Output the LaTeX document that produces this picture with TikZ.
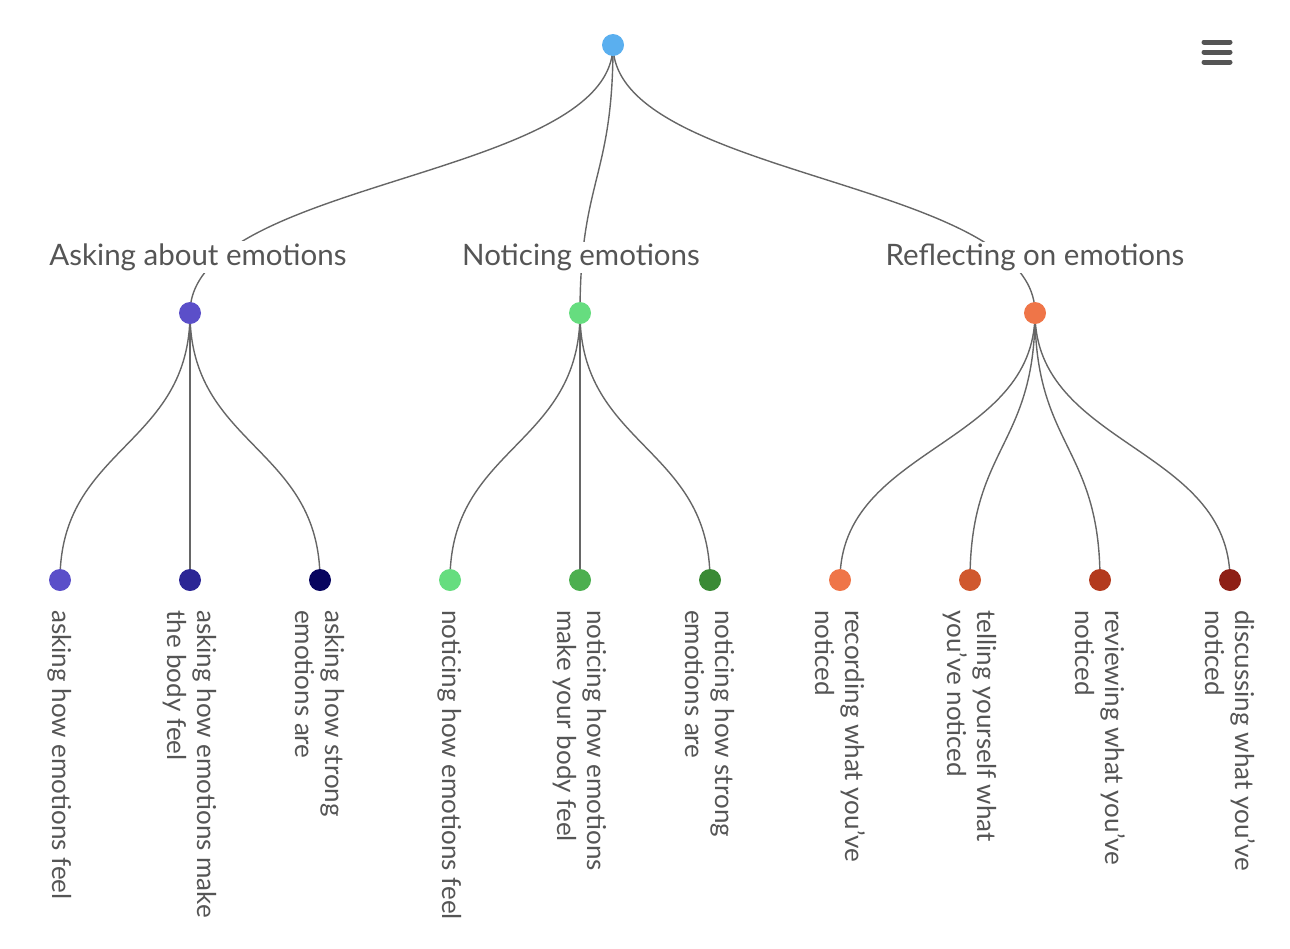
\documentclass[tikz,border=0pt]{standalone}
\usepackage{fontspec}
\setmainfont{Lato}
\usetikzlibrary{positioning,calc}
\definecolor{rootc}{HTML}{5AAFEF}
\definecolor{askA}{HTML}{5B4FC9}
\definecolor{askB}{HTML}{2B2595}
\definecolor{askC}{HTML}{07055F}
\definecolor{notA}{HTML}{66DD7F}
\definecolor{notB}{HTML}{4CAF50}
\definecolor{notC}{HTML}{3A8A35}
\definecolor{refA}{HTML}{EF7548}
\definecolor{refB}{HTML}{D0582E}
\definecolor{refC}{HTML}{B33A1E}
\definecolor{refD}{HTML}{8E1F15}
\definecolor{ink}{HTML}{555555}
\tikzset{
	dot/.style = {circle, inner sep=0pt, minimum size=22pt, fill=#1},
	link/.style = {draw=ink!90, line width=1.4pt},
	branch/.style = {font=\fontsize{29.5}{34}\selectfont, text=ink, fill=white, inner sep=2pt},
	leaf/.style = {font=\fontsize{26}{30}\selectfont, text=ink, rotate=-90, anchor=west, align=left, inner sep=0pt},
	bar/.style = {line width=5pt, line cap=round, draw=ink}
}
\newcommand{\vlink}[2]{\path[link] let \p1=(#1), \p2=(#2) in
	(\p1) .. controls (\x1,{0.5*\y1+0.5*\y2}) and (\x2,{0.5*\y1+0.5*\y2}) .. (\p2);}
\begin{document}
\begin{tikzpicture}[x=1pt, y=-1pt]
\useasboundingbox (0,0) rectangle (1290,948);

\coordinate (root) at (613,45);
\coordinate (ask) at (190,313);
\coordinate (not) at (580,313);
\coordinate (ref) at (1035,313);

% links first, labels hide them
\vlink{root}{ask}
\vlink{root}{not}
\vlink{root}{ref}
\foreach \src/\lx in {ask/60, ask/190, ask/320, not/450, not/580, not/710, ref/840, ref/970, ref/1100, ref/1230}{
	\coordinate (tmp) at (\lx,580);
	\vlink{\src}{tmp}
}

\node (askl) [branch] at (198,257) {Asking about emotions};
\node (notl) [branch] at (581,257) {Noticing emotions};
\node (refl) [branch] at (1035,257) {Reflecting on emotions};

\node (rootd) [dot=rootc] at (root) {};
\node (askd) [dot=askA] at (ask) {};
\node (notd) [dot=notA] at (not) {};
\node (refd) [dot=refA] at (ref) {};

\foreach \lx/\c/\t [count=\i] in {
	60/askA/{asking how emotions feel},
	190/askB/{asking how emotions make\\the body feel},
	320/askC/{asking how strong\\emotions are},
	450/notA/{noticing how emotions feel},
	580/notB/{noticing how emotions\\make your body feel},
	710/notC/{noticing how strong\\emotions are},
	840/refA/{recording what you've\\noticed},
	970/refB/{telling yourself what\\you've noticed},
	1100/refC/{reviewing what you've\\noticed},
	1230/refD/{discussing what you've\\noticed}}{
	\node (leaf\i) [dot=\c] at (\lx,580) {};
	\node (text\i) [leaf] at (\lx,610) {\t};
}

% menu icon
\foreach \y in {42,52,62}
	\draw[bar] (1204,\y) -- (1230,\y);
\end{tikzpicture}
\end{document}
